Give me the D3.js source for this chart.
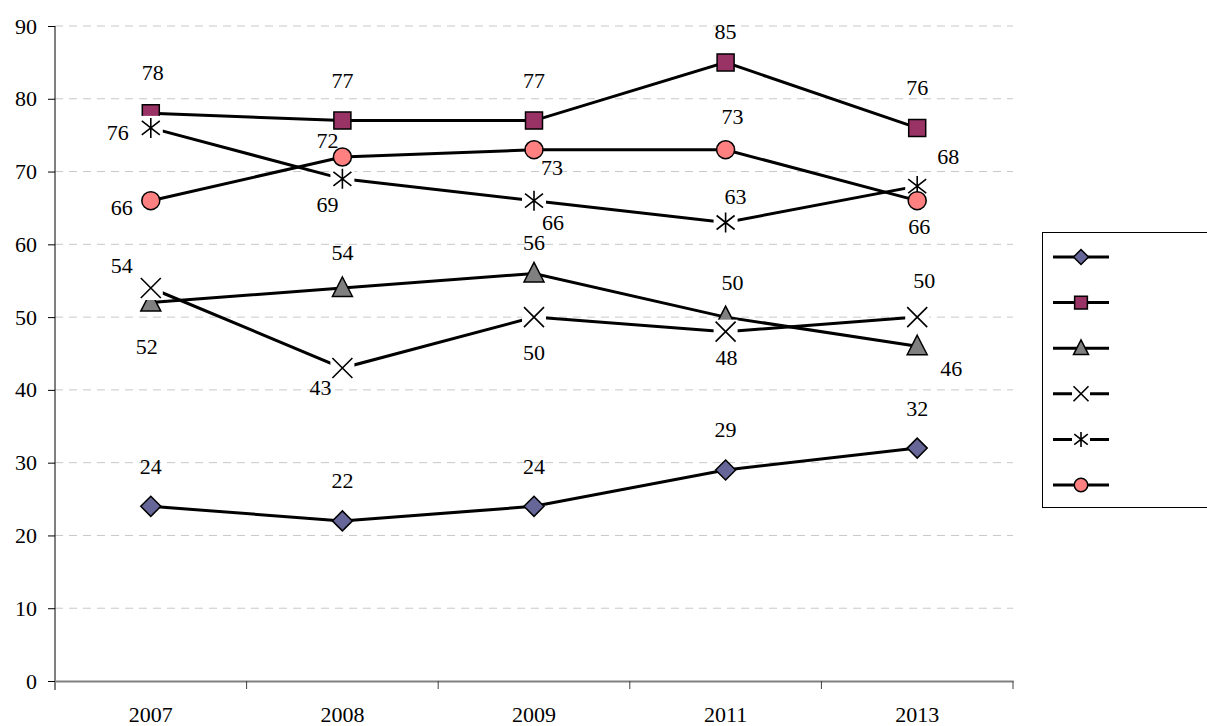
<!DOCTYPE html>
<html>
<head>
<meta charset="utf-8">
<script src="https://cdn.jsdelivr.net/npm/d3@7"></script>
<style>
	body { margin: 0; background: #fff; }
	text { font-family: "Liberation Serif", "Times New Roman", serif; font-size: 22px; fill: #000; }
</style>
</head>
<body>
<script>
var years = ["2007", "2008", "2009", "2011", "2013"];
var yTicks = [0, 10, 20, 30, 40, 50, 60, 70, 80, 90];

var diamondSeries = [24, 22, 24, 29, 32];
var squareSeries = [78, 77, 77, 85, 76];
var triangleSeries = [52, 54, 56, 50, 46];
var crossSeries = [54, 43, 50, 48, 50];
var starSeries = [76, 69, 66, 63, 68];
var circleSeries = [66, 72, 73, 73, 66];

// where each value label sits relative to its point (hand placed in the original)
var labelOffsets = [
	[[0, -40], [0, -40], [0, -40], [0, -40], [0, -40]],
	[[2, -41], [0, -40], [0, -40], [0, -31], [0, -40]],
	[[-4, 44], [0, -36], [0, -31], [7, -35], [34, 22]],
	[[-29, -23], [-22, 19], [0, 35], [1, 26], [7, -37]],
	[[-33, 5], [-15, 26], [19, 22], [10, -26], [31, -30]],
	[[-29, 7], [-15, -17], [18, 18], [7, -33], [2, 26]]
];

var series = [
	{ values: diamondSeries, marker: "diamond", fill: "#666699" },
	{ values: squareSeries, marker: "square", fill: "#993366" },
	{ values: triangleSeries, marker: "triangle", fill: "#808080" },
	{ values: crossSeries, marker: "cross", fill: "none" },
	{ values: starSeries, marker: "star", fill: "none" },
	{ values: circleSeries, marker: "circle", fill: "#FF8080" }
];

var W = 1207, H = 726;
var plotL = 55, plotR = 1013, plotT = 26, plotB = 681;

var svg = d3.select("body").append("svg").attr("width", W).attr("height", H);
svg.append("rect").attr("width", W).attr("height", H).attr("fill", "#fff");

var x = d3.scaleBand().domain(years).range([plotL, plotR]).padding(0);
var y = d3.scaleLinear().domain([0, 90]).range([plotB, plotT]);
var cx = function(i) { return x(years[i]) + x.bandwidth() / 2; };

// gridlines
svg.append("g").selectAll("line").data(yTicks.filter(function(t) { return t > 0; }))
	.enter().append("line")
	.attr("x1", plotL).attr("x2", plotR)
	.attr("y1", function(d) { return y(d); }).attr("y2", function(d) { return y(d); })
	.attr("stroke", "#c8c8c8").attr("stroke-width", 1).attr("stroke-dasharray", "8,6");

// y axis
var yAxis = svg.append("g").attr("transform", "translate(" + plotL + ",0)")
	.call(d3.axisLeft(y).tickValues(yTicks).tickSize(7).tickPadding(11));
yAxis.select(".domain").attr("stroke", "#000").attr("d", "M0," + plotT + "V" + (plotB + 9));
yAxis.selectAll(".tick line").attr("stroke", "#000");
yAxis.selectAll("text").attr("font-size", 22).attr("font-family", "Liberation Serif").attr("fill", "#000");

// x axis
var xAxis = svg.append("g").attr("transform", "translate(0," + plotB + ")")
	.call(d3.axisBottom(x).tickSize(0).tickPadding(25));
xAxis.select(".domain").attr("stroke", "#808080").attr("stroke-width", 2);
xAxis.selectAll("text").attr("font-size", 22).attr("font-family", "Liberation Serif").attr("fill", "#000");
var bounds = years.map(function(d) { return x(d); }).concat([plotR]);
xAxis.selectAll(".bound").data(bounds.slice(1)).enter().append("line")
	.attr("x1", function(d) { return d; }).attr("x2", function(d) { return d; })
	.attr("y1", 0).attr("y2", 8).attr("stroke", "#404040");

function markerPath(type, s) {
	if (type == "diamond") return "M0," + (-10*s) + "L" + (10*s) + ",0L0," + (10*s) + "L" + (-10*s) + ",0Z";
	if (type == "square") return d3.symbol(d3.symbolSquare, 289 * s * s)();
	if (type == "triangle") return "M0," + (-11*s) + "L" + (10*s) + "," + (8.5*s) + "L" + (-10*s) + "," + (8.5*s) + "Z";
	if (type == "circle") return d3.symbol(d3.symbolCircle, Math.PI * 81 * s * s)();
	if (type == "cross") return "M" + (-10*s) + "," + (-10*s) + "L" + (10*s) + "," + (10*s) + "M" + (-10*s) + "," + (10*s) + "L" + (10*s) + "," + (-10*s);
	if (type == "star") return "M" + (-9*s) + "," + (-7*s) + "L" + (9*s) + "," + (7*s) + "M" + (-9*s) + "," + (7*s) + "L" + (9*s) + "," + (-7*s) + "M0," + (-10*s) + "L0," + (10*s);
}

function drawMarker(g, type, fill, s) {
	if (type == "cross" || type == "star") {
		g.append("rect").attr("x", -12*s).attr("y", -12*s).attr("width", 24*s).attr("height", 24*s).attr("fill", "#fff");
		g.append("path").attr("d", markerPath(type, s)).attr("fill", "none").attr("stroke", "#000").attr("stroke-width", 1.6);
	} else {
		g.append("path").attr("d", markerPath(type, s)).attr("fill", fill).attr("stroke", "#000").attr("stroke-width", 1.5);
	}
}

var line = d3.line().x(function(d, i) { return cx(i); }).y(function(d) { return y(d); });

series.forEach(function(s, si) {
	var g = svg.append("g");
	g.append("path").attr("d", line(s.values)).attr("fill", "none").attr("stroke", "#000").attr("stroke-width", 3);
	g.selectAll(".m").data(s.values).enter().append("g")
		.attr("transform", function(d, i) { return "translate(" + cx(i) + "," + y(d) + ")"; })
		.each(function() { drawMarker(d3.select(this), s.marker, s.fill, 1); });
});

// value labels on top
series.forEach(function(s, si) {
	svg.append("g").selectAll("text").data(s.values).enter().append("text")
		.attr("x", function(d, i) { return cx(i) + labelOffsets[si][i][0]; })
		.attr("y", function(d, i) { return y(d) + labelOffsets[si][i][1]; })
		.attr("text-anchor", "middle").attr("dominant-baseline", "central")
		.text(function(d) { return d; });
});

// legend (no text in the original)
var legend = svg.append("g");
legend.append("rect").attr("x", 1042.5).attr("y", 232.5).attr("width", 170).attr("height", 275)
	.attr("fill", "#fff").attr("stroke", "#000").attr("stroke-width", 1);
series.forEach(function(s, si) {
	var ly = 257 + si * 45.6;
	var lg = legend.append("g").attr("transform", "translate(1081," + ly + ")");
	lg.append("line").attr("x1", -28).attr("x2", 28).attr("stroke", "#000").attr("stroke-width", 3);
	drawMarker(lg, s.marker, s.fill, 0.75);
});
</script>
</body>
</html>
